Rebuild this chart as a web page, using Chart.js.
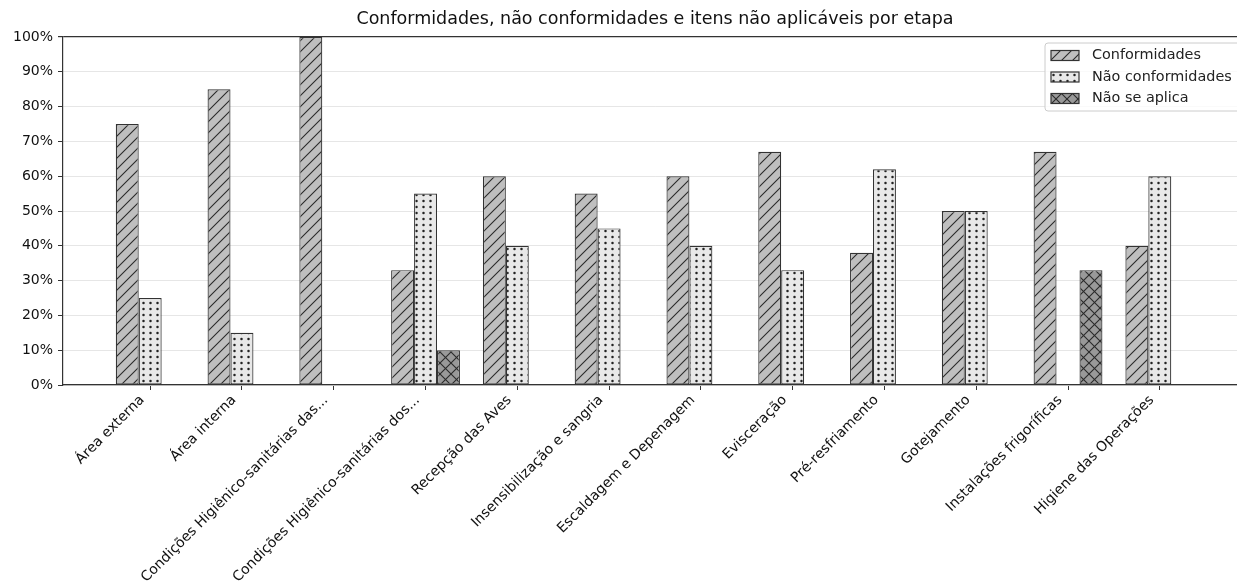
<!DOCTYPE html>
<html>
<head>
<meta charset="utf-8">
<script src="https://cdn.jsdelivr.net/npm/chart.js@4"></script>
<style>
  html, body { margin: 0; padding: 0; overflow: hidden; background: #fff; }
  #wrap { width: 1250px; height: 582px; position: relative; }
</style>
</head>
<body>
<div id="wrap"><canvas id="chart"></canvas></div>
<script>
const etapas = [
  "Área externa",
  "Área interna",
  "Condições Higiênico-sanitárias das...",
  "Condições Higiênico-sanitárias dos...",
  "Recepção das Aves",
  "Insensibilização e sangria",
  "Escaldagem e Depenagem",
  "Evisceração",
  "Pré-resfriamento",
  "Gotejamento",
  "Instalações frigoríficas",
  "Higiene das Operações"
];
const conformidades = [75, 85, 100, 33, 60, 55, 60, 67, 38, 50, 67, 40];
const naoConformidades = [25, 15, 0, 55, 40, 45, 40, 33, 62, 50, 0, 60];
const naoSeAplica = [0, 0, 0, 10, 0, 0, 0, 0, 0, 0, 33, 0];
const yTicks = [0, 10, 20, 30, 40, 50, 60, 70, 80, 90, 100];

const FONT = "'DejaVu Sans', sans-serif";
const EDGE = "#333333";

// hatch patterns like matplotlib's "//", "..", "x"
function makePattern(bg, kind) {
  const w = kind === "dots" ? 7 : 11;
  const h = kind === "dots" ? 6 : 11;
  const c = document.createElement("canvas");
  c.width = w; c.height = h;
  const g = c.getContext("2d");
  g.fillStyle = bg;
  g.fillRect(0, 0, w, h);
  g.strokeStyle = "#2b2b2b";
  g.fillStyle = "#222";
  g.lineWidth = 1.1;
  if (kind === "diag" || kind === "cross") {
    g.beginPath();
    g.moveTo(-1, h + 1); g.lineTo(w + 1, -1);
    g.moveTo(-1, 1); g.lineTo(1, -1);
    g.moveTo(w - 1, h + 1); g.lineTo(w + 1, h - 1);
    g.stroke();
  }
  if (kind === "cross") {
    g.beginPath();
    g.moveTo(-1, -1); g.lineTo(w + 1, h + 1);
    g.moveTo(w - 1, -1); g.lineTo(w + 1, 1);
    g.moveTo(-1, h - 1); g.lineTo(1, h + 1);
    g.stroke();
  }
  if (kind === "dots") {
    g.beginPath();
    g.arc(3.5, 3, 1.25, 0, Math.PI * 2);
    g.fill();
  }
  return g.createPattern(c, "repeat");
}

const fillC = makePattern("#bfbfbf", "diag");
const fillNC = makePattern("#e8e8e8", "dots");
const fillNA = makePattern("#999999", "cross");

const toPoints = arr => arr.map((v, i) => ({ x: i, y: v }));

// legend drawn inside the plot, top right
const boxLegend = {
  id: "boxLegend",
  afterDraw(chart) {
    const ctx = chart.ctx;
    const x0 = 1045, y0 = 43, w = 196, h = 68;
    ctx.save();
    ctx.beginPath();
    ctx.roundRect(x0, y0, w, h, 3);
    ctx.fillStyle = "rgba(255,255,255,0.8)";
    ctx.fill();
    ctx.strokeStyle = "#cccccc";
    ctx.lineWidth = 1;
    ctx.stroke();
    ctx.font = "14.4px " + FONT;
    ctx.textBaseline = "middle";
    chart.data.datasets.forEach((ds, i) => {
      const cy = y0 + 12.5 + i * 21.5;
      ctx.fillStyle = ds.backgroundColor;
      ctx.fillRect(x0 + 6, cy - 5, 28, 10);
      ctx.strokeStyle = EDGE;
      ctx.lineWidth = 1.2;
      ctx.strokeRect(x0 + 6, cy - 5, 28, 10);
      ctx.fillStyle = "#222";
      ctx.fillText(ds.label, x0 + 47, cy);
    });
    ctx.restore();
  }
};

const ctx = document.getElementById("chart").getContext("2d");
new Chart(ctx, {
  type: "bar",
  data: {
    datasets: [
      { label: "Conformidades", data: toPoints(conformidades), backgroundColor: fillC },
      { label: "Não conformidades", data: toPoints(naoConformidades), backgroundColor: fillNC },
      { label: "Não se aplica", data: toPoints(naoSeAplica), backgroundColor: fillNA }
    ]
  },
  options: {
    responsive: true,
    maintainAspectRatio: false,
    animation: false,
    layout: { padding: { left: 0, right: 3, top: 0, bottom: 0 } },
    datasets: {
      bar: {
        borderColor: EDGE,
        borderWidth: 1.2,
        borderSkipped: false,
        barPercentage: 1,
        categoryPercentage: 0.75
      }
    },
    plugins: {
      legend: { display: false },
      tooltip: { enabled: false },
      title: {
        display: true,
        fullSize: false,
        text: "Conformidades, não conformidades e itens não aplicáveis por etapa",
        color: "#111",
        font: { family: FONT, size: 17.5, weight: "normal" },
        padding: { top: 9, bottom: 7 }
      }
    },
    scales: {
      x: {
        type: "linear",
        offset: false,
        min: -0.95,
        max: 11.95,
        afterBuildTicks: s => { s.ticks = etapas.map((_, i) => ({ value: i })); },
        afterFit: s => { s.height = 197; },
        ticks: {
          autoSkip: false,
          minRotation: 45,
          maxRotation: 45,
          padding: 2,
          labelOffset: -8,
          color: "#111",
          font: { family: FONT, size: 14 },
          callback: v => etapas[v]
        },
        grid: { offset: false, drawOnChartArea: false, drawTicks: true, tickLength: 5, tickColor: EDGE },
        border: { color: EDGE, width: 1.2 }
      },
      y: {
        min: 0,
        max: 100,
        afterBuildTicks: s => { s.ticks = yTicks.map(v => ({ value: v })); },
        afterFit: s => { s.width = 63; },
        ticks: {
          padding: 5,
          color: "#111",
          font: { family: FONT, size: 14 },
          callback: v => v + "%"
        },
        grid: {
          color: c => (c.tick && c.tick.value === 100 ? EDGE : "#e6e6e6"),
          lineWidth: c => (c.tick && c.tick.value === 100 ? 1.2 : 1),
          tickColor: EDGE,
          tickLength: 5
        },
        border: { color: EDGE, width: 1.2 }
      }
    }
  },
  plugins: [boxLegend]
});
</script>
</body>
</html>
